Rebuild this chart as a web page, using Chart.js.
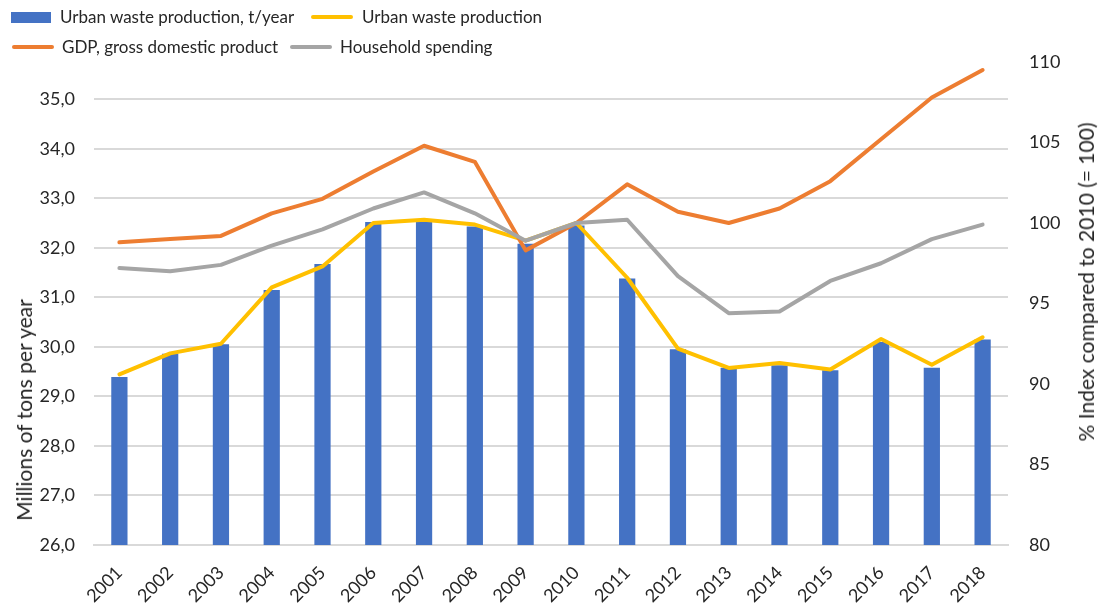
<!DOCTYPE html>
<html>
<head>
<meta charset="utf-8">
<script src="https://cdn.jsdelivr.net/npm/chart.js@4.4.1/dist/chart.umd.min.js"></script>
<style>
  html, body { margin: 0; padding: 0; background: #fff; }
  #wrap { position: relative; width: 1107px; height: 604px; font-family: Lato, "Open Sans", sans-serif; color: #262626; }
  #chart { position: absolute; left: 0; top: 0; }
  .lg { position: absolute; font-size: 17px; line-height: 20px; white-space: nowrap; }
  .sw { position: absolute; }
  .ttl { position: absolute; font-size: 21px; line-height: 24px; white-space: nowrap; transform: translate(-50%, -50%) rotate(-90deg); }
</style>
</head>
<body>
<div id="wrap">
  <canvas id="chart" width="1107" height="604"></canvas>
  <div id="legend"></div>
  <div class="ttl" style="left:24px; top:410px;">Millions of tons per year</div>
  <div class="ttl" style="left:1086px; top:282px;">% Index compared to 2010 (= 100)</div>
</div>
<script>
// 데이터
const years = ['2001','2002','2003','2004','2005','2006','2007','2008','2009','2010','2011','2012','2013','2014','2015','2016','2017','2018'];
const wasteTons = [29.39, 29.86, 30.05, 31.15, 31.67, 32.52, 32.54, 32.43, 32.08, 32.45, 31.38, 29.95, 29.58, 29.63, 29.53, 30.10, 29.58, 30.15];
const wasteIndex = [90.6, 91.9, 92.5, 96.0, 97.3, 100.0, 100.2, 99.9, 98.9, 100.0, 96.6, 92.2, 91.0, 91.3, 90.9, 92.8, 91.2, 92.9];
const gdpIndex = [98.8, 99.0, 99.2, 100.6, 101.5, 103.2, 104.8, 103.8, 98.3, 100.0, 102.4, 100.7, 100.0, 100.9, 102.6, 105.2, 107.8, 109.5];
const spendIndex = [97.2, 97.0, 97.4, 98.6, 99.6, 100.9, 101.9, 100.6, 98.9, 100.0, 100.2, 96.7, 94.4, 94.5, 96.4, 97.5, 99.0, 99.9];
const leftTicks = [26, 27, 28, 29, 30, 31, 32, 33, 34, 35];

const colors = { bar: '#4472C4', yellow: '#FFC000', orange: '#ED7D31', gray: '#A5A5A5' };
const legendItems = [
  { label: 'Urban waste production, t/year', color: colors.bar, box: true, x: 11, y: 17, tx: 60 },
  { label: 'Urban waste production', color: colors.yellow, x: 311, y: 17, tx: 362 },
  { label: 'GDP, gross domestic product', color: colors.orange, x: 12, y: 47, tx: 62 },
  { label: 'Household spending', color: colors.gray, x: 290, y: 47, tx: 340 }
];

// 범례 (HTML)
const legendEl = document.getElementById('legend');
legendItems.forEach(item => {
  const sw = document.createElement('div');
  sw.className = 'sw';
  sw.style.background = item.color;
  if (item.box) {
    sw.style.left = item.x + 'px'; sw.style.top = (item.y - 5) + 'px';
    sw.style.width = '40px'; sw.style.height = '11px';
  } else {
    sw.style.left = item.x + 'px'; sw.style.top = (item.y - 2) + 'px';
    sw.style.width = '42px'; sw.style.height = '4px'; sw.style.borderRadius = '2px';
  }
  legendEl.appendChild(sw);
  const t = document.createElement('div');
  t.className = 'lg';
  t.style.left = item.tx + 'px';
  t.style.top = (item.y - 10) + 'px';
  t.textContent = item.label;
  legendEl.appendChild(t);
});

const fontBase = { family: 'Lato, "Open Sans", sans-serif', size: 18 };
const lineStyle = { borderWidth: 4, pointRadius: 0, tension: 0, borderJoinStyle: 'round', borderCapStyle: 'round', fill: false, yAxisID: 'y1', type: 'line' };

new Chart(document.getElementById('chart'), {
  data: {
    labels: years,
    datasets: [
      { type: 'bar', label: 'Urban waste production, t/year', data: wasteTons, backgroundColor: colors.bar,
        yAxisID: 'y', barPercentage: 0.32, categoryPercentage: 1, order: 10 },
      Object.assign({ label: 'Urban waste production', data: wasteIndex, borderColor: colors.yellow, order: 3 }, lineStyle),
      Object.assign({ label: 'GDP, gross domestic product', data: gdpIndex, borderColor: colors.orange, order: 2 }, lineStyle),
      Object.assign({ label: 'Household spending', data: spendIndex, borderColor: colors.gray, order: 1 }, lineStyle)
    ]
  },
  options: {
    responsive: false,
    animation: false,
    layout: { padding: { top: 62, left: 0, right: 0, bottom: 0 } },
    plugins: { legend: { display: false }, tooltip: { enabled: false } },
    scales: {
      x: {
        grid: { display: false },
        border: { display: true, color: '#d9d9d9', width: 2 },
        ticks: { color: '#262626', font: fontBase, minRotation: 45, maxRotation: 45, padding: 9 },
        afterFit: s => { s.height = 59; }
      },
      y: {
        position: 'left', min: 26, max: 35.75,
        afterBuildTicks: s => { s.ticks = leftTicks.map(v => ({ value: v })); },
        afterFit: s => { s.width = 94; },
        grid: { color: '#d9d9d9', lineWidth: 2, drawTicks: false },
        border: { display: false },
        ticks: { color: '#262626', font: fontBase, padding: 19, callback: v => v.toFixed(1).replace('.', ',') }
      },
      y1: {
        position: 'right', min: 80, max: 110,
        afterFit: s => { s.width = 99; },
        grid: { display: false, drawTicks: false },
        border: { display: false },
        ticks: { color: '#262626', font: fontBase, stepSize: 5, padding: 21 }
      }
    }
  }
});
</script>
</body>
</html>
